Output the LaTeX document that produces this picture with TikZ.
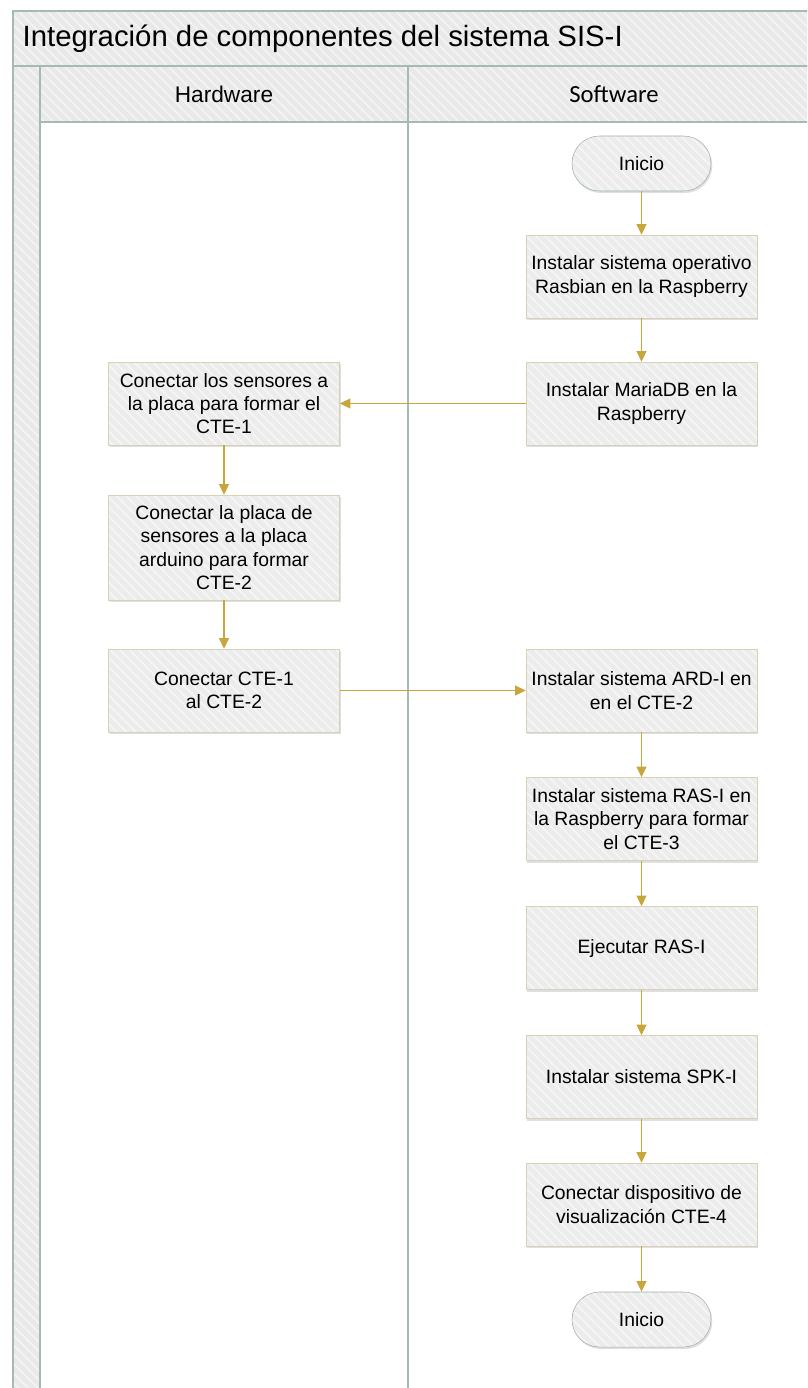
\documentclass[tikz,border=0pt]{standalone}
\usepackage{fontspec}
\setmainfont{Liberation Sans}
\newfontfamily\swfont{Carlito}
\usetikzlibrary{shadows,patterns.meta,arrows.meta}
\definecolor{poolline}{HTML}{A5BAB2}
\definecolor{bandgray}{HTML}{E9E9E9}
\definecolor{boxgray}{HTML}{ECECEC}
\definecolor{boxline}{HTML}{D8D1B3}
\definecolor{flowgold}{HTML}{C9A63C}
\definecolor{termline}{HTML}{9DB3AA}
\newcommand{\boxfont}{\fontsize{14.5}{17.5}\selectfont}
\begin{document}
\begin{tikzpicture}[x=0.75pt,y=-0.75pt,
hatch/.style={preaction={fill=#1},preaction={pattern={Lines[angle=-45,distance=5pt,line width=1.2pt]},pattern color=white!55!#1}},
stepbox/.style={drop shadow={shadow xshift=1pt,shadow yshift=-1.5pt,opacity=0.25},hatch=boxgray,draw=boxline,minimum width=173.25pt,minimum height=62.25pt,align=center,inner sep=2pt,font=\boxfont},
termbox/.style={stepbox,draw=termline,minimum width=104.25pt,minimum height=41.25pt,rounded corners=20.6pt},
flow/.style={draw=flowgold,line width=0.8pt,-{Triangle[length=8pt,width=7.5pt]}}]
\useasboundingbox(0,0)rectangle(807,1388);
\clip(0,0)rectangle(807,1388);
% pool and lanes
\draw[poolline,line width=0.9pt,hatch=bandgray](13,11)rectangle(820,66);
\draw[poolline,line width=0.9pt,hatch=bandgray](13,66)rectangle(40,1400);
\draw[poolline,line width=0.9pt,hatch=bandgray](40,66)rectangle(820,122);
\draw[poolline,line width=0.9pt](40,122)rectangle(408,1400);
\draw[poolline,line width=0.9pt](408,66)rectangle(820,1400);
\node[anchor=west,font=\fontsize{22}{26}\selectfont](title)at(18,39){Integración de componentes del sistema SIS-I};
\node[font=\fontsize{17}{20}\selectfont](hw)at(224,94){Hardware};
\node[font=\swfont\fontsize{18.5}{22}\selectfont](sw)at(614,94){Software};
% software lane
\node[termbox](inicio)at(641.5,163.5){Inicio};
\node[stepbox](rasbian)at(641.5,276.5){Instalar sistema operativo\\Rasbian en la Raspberry};
\node[stepbox](mariadb)at(641.5,403.5){Instalar MariaDB en la\\Raspberry};
\node[stepbox](ard)at(641.5,690.5){Instalar sistema ARD-I en\\en el CTE-2};
\node[stepbox](ras)at(641.5,819){Instalar sistema RAS-I en\\la Raspberry para formar\\el CTE-3};
\node[stepbox](ejecutar)at(641.5,948){Ejecutar RAS-I};
\node[stepbox](spk)at(641.5,1077){Instalar sistema SPK-I};
\node[stepbox](visual)at(641.5,1204.5){Conectar dispositivo de\\visualización CTE-4};
\node[termbox](fin)at(641.5,1319.5){Inicio};
% hardware lane
\node[stepbox](sensores)at(224,403.5){Conectar los sensores a\\la placa para formar el\\CTE-1};
\node[stepbox,minimum height=78.75pt](placa)at(224,547.5){Conectar la placa de\\sensores a la placa\\arduino para formar\\CTE-2};
\node[stepbox](union)at(224,690.5){Conectar CTE-1\\al CTE-2};
% connectors
\foreach \a/\b in {inicio/rasbian,rasbian/mariadb,mariadb/sensores,sensores/placa,placa/union,union/ard,ard/ras,ras/ejecutar,ejecutar/spk,spk/visual,visual/fin}{\draw[flow](\a)--(\b);}
\end{tikzpicture}
\end{document}
